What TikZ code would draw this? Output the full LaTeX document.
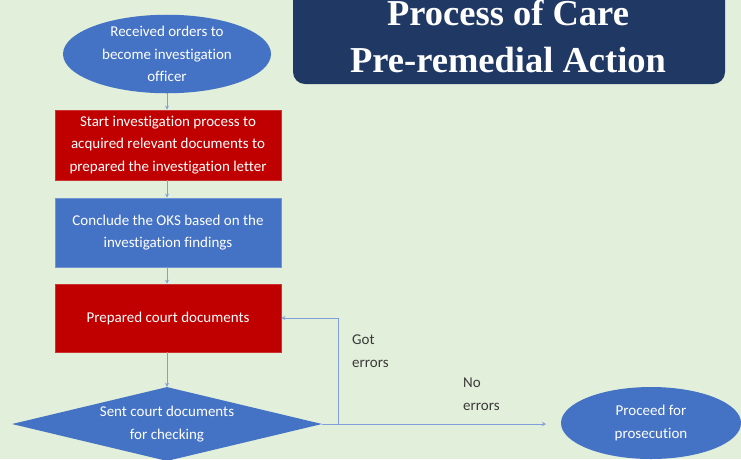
\documentclass[tikz,border=0pt]{standalone}
\usepackage{fontspec}
\setmainfont{Carlito}[Ligatures=NoCommon]
\newfontfamily\titlefont{Liberation Serif}
\usetikzlibrary{shapes.geometric,arrows.meta}
\definecolor{bgc}{HTML}{E2EFDA}
\definecolor{navy}{HTML}{203864}
\definecolor{oblue}{HTML}{4472C4}
\definecolor{ored}{HTML}{C00000}
\definecolor{conn}{HTML}{7F9FDB}
\definecolor{lbl}{HTML}{3A3A3A}
\tikzset{
  txt/.style={text=white, font=\fontsize{15}{22.5}\selectfont, align=center, inner sep=0pt},
  oval/.style={ellipse, fill=oblue, txt},
  redbox/.style={rectangle, fill=ored, draw=ored!80!white, line width=0.6pt, minimum width=226pt, txt},
  bluebox/.style={rectangle, fill=oblue, draw=oblue!75!white, line width=0.6pt, minimum width=226pt, txt},
  dia/.style={diamond, fill=oblue, aspect=4.19, txt},
  titlebox/.style={rectangle, rounded corners=12pt, fill=navy, minimum width=432pt, minimum height=110pt, inner sep=0pt},
  titletxt/.style={text=white, font=\titlefont\bfseries\fontsize{36.5}{48}\selectfont, inner sep=0pt},
  conline/.style={draw=conn, line width=0.8pt},
  arr/.style={conline, -{Stealth[length=4pt,width=4pt]}},
  lab/.style={text=lbl, font=\fontsize{15}{22.5}\selectfont, align=left, inner sep=0pt, anchor=north west}
}
\begin{document}
\begin{tikzpicture}[x=1pt,y=-1pt]
\fill[bgc] (0,0) rectangle (741,459);
\useasboundingbox (0,0) rectangle (741,459);
\clip (0,0) rectangle (741,459);
% title
\node[titlebox] (title) at (509,29) {};
\node[titletxt, anchor=base] (t1) at (508,25) {Process of Care};
\node[titletxt, anchor=base] (t2) at (508,72) {Pre-remedial Action};
% flow
\node[oval, minimum width=208pt, minimum height=72pt] (e1) at (167,54)
  {Received orders to\\become investigation\\officer};
\node[redbox, minimum height=70pt] (b1) at (168,145)
  {Start investigation process to\\acquired relevant documents to\\prepared the investigation letter};
\node[bluebox, minimum height=69pt] (b2) at (168,232.5)
  {Conclude the OKS based on the\\investigation findings};
\node[redbox, minimum height=68pt] (b3) at (168,318)
  {Prepared court documents};
\node[dia, minimum width=310pt, minimum height=74pt] (d) at (167,424)
  {Sent court documents\\for checking};
\node[oval, minimum width=180pt, minimum height=72pt] (e2) at (651,423)
  {Proceed for\\prosecution};
% connectors
\draw[arr] (e1.south) -- (e1.south |- b1.north);
\draw[arr] (e1.south |- b1.south) -- (e1.south |- b2.north);
\draw[arr] (e1.south |- b2.south) -- (e1.south |- b3.north);
\draw[arr] (e1.south |- b3.south) -- (d.north);
\coordinate (jn) at (338,424);
\coordinate (pend) at (546,424);
\draw[arr] (d.east) -- (pend);
\draw[arr] (jn) |- (b3.east);
% labels
\node[lab] (got) at (352,335) {Got\\errors};
\node[lab] (noerr) at (463,378) {No\\errors};
\end{tikzpicture}
\end{document}
